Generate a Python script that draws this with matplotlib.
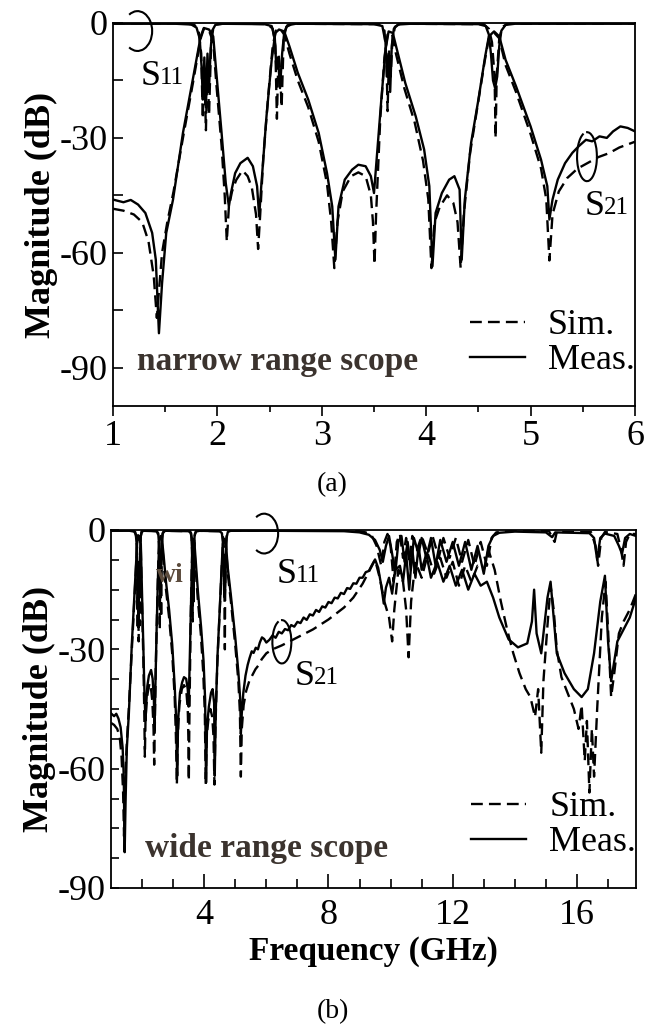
import math
import matplotlib
matplotlib.use('Agg')
import matplotlib.pyplot as plt
from matplotlib.patches import Arc

plt.rcParams['font.family'] = ['Liberation Serif', 'DejaVu Serif']

# ------------------------------------------------------------------ data
# narrow range (1-6 GHz)
f_s21_meas_n = [1.00, 1.10, 1.17, 1.24, 1.31, 1.375, 1.41, 1.44, 1.47, 1.51, 1.575, 1.67, 1.77, 1.84,
                1.87, 1.92, 1.96, 1.99, 2.04, 2.08, 2.11, 2.13, 2.17, 2.22, 2.29, 2.34, 2.38, 2.40,
                2.42, 2.47, 2.52, 2.555, 2.59, 2.64, 2.69, 2.77, 2.87, 2.97, 3.05, 3.10, 3.13, 3.16,
                3.22, 3.29, 3.35, 3.42, 3.47, 3.50, 3.52, 3.57, 3.61, 3.64, 3.68, 3.72, 3.80, 3.90,
                3.98, 4.03, 4.06, 4.09, 4.15, 4.22, 4.27, 4.32, 4.34, 4.37, 4.43, 4.50, 4.565, 4.60,
                4.65, 4.70, 4.76, 4.86, 5.00, 5.10, 5.16, 5.18, 5.21, 5.26, 5.33, 5.40, 5.46, 5.53,
                5.59, 5.66, 5.73, 5.79, 5.86, 5.93, 6.00]
s21_meas_n = [-46.1, -46.8, -46.2, -47.4, -49.6, -54.8, -61.8, -81.0, -67.9, -54.8, -46.1, -28.7, -13.9, -3.5,
              -1.3, -1.7, -3.5, -13.0, -28.7, -41.8, -47.9, -44.4, -39.2, -36.6, -35.2, -37.4, -42.6, -50.5,
              -42.6, -24.4, -9.6, -2.6, -1.7, -2.2, -6.1, -13.0, -20.0, -28.7, -39.2, -47.9, -61.8, -47.9,
              -40.9, -38.3, -37.0, -37.4, -40.0, -44.4, -37.4, -20.0, -7.0, -2.2, -2.6, -7.0, -15.7, -24.4,
              -33.0, -42.6, -63.5, -49.6, -44.4, -40.9, -40.0, -43.5, -61.8, -46.1, -31.3, -20.0, -8.7, -3.5,
              -2.2, -3.5, -9.6, -16.5, -27.0, -35.7, -42.6, -51.3, -46.1, -40.9, -36.6, -33.9, -32.2, -30.5,
              -30.9, -29.6, -30.0, -28.3, -27.0, -27.4, -28.3]

f_s21_sim_n = [1.00, 1.10, 1.20, 1.28, 1.34, 1.39, 1.42, 1.44, 1.47, 1.52, 1.58, 1.67, 1.77, 1.84, 1.87,
               1.92, 1.96, 1.99, 2.04, 2.07, 2.09, 2.11, 2.14, 2.18, 2.24, 2.29, 2.33, 2.37, 2.39, 2.41,
               2.44, 2.49, 2.53, 2.56, 2.60, 2.64, 2.69, 2.77, 2.87, 2.97, 3.05, 3.09, 3.12, 3.15, 3.20,
               3.28, 3.35, 3.42, 3.47, 3.49, 3.505, 3.52, 3.56, 3.60, 3.63, 3.67, 3.71, 3.79, 3.89, 3.97,
               4.02, 4.05, 4.08, 4.13, 4.20, 4.26, 4.30, 4.33, 4.36, 4.42, 4.49, 4.56, 4.60, 4.65, 4.70,
               4.76, 4.86, 5.00, 5.10, 5.15, 5.18, 5.21, 5.27, 5.35, 5.45, 5.55, 5.65, 5.75, 5.85, 5.95,
               6.00]
s21_sim_n = [-48.5, -49.0, -50.0, -52.0, -57.0, -66.0, -77.0, -70.0, -60.0, -52.0, -44.0, -30.0, -15.0, -4.0, -1.5,
             -2.0, -5.0, -16.0, -32.0, -45.0, -57.0, -48.0, -44.0, -41.0, -38.5, -40.0, -43.0, -50.0, -59.0, -50.0,
             -35.0, -18.0, -6.0, -2.0, -1.5, -3.0, -8.0, -15.0, -22.0, -31.0, -42.0, -52.0, -64.0, -52.0, -44.0,
             -40.0, -39.0, -40.0, -45.0, -52.0, -63.0, -50.0, -25.0, -9.0, -3.0, -2.5, -8.0, -17.0, -26.0, -36.0,
             -46.0, -64.0, -52.0, -48.0, -45.0, -47.0, -52.0, -64.0, -50.0, -34.0, -22.0, -10.0, -4.0, -2.5, -4.0,
             -11.0, -18.0, -29.0, -38.0, -46.0, -62.0, -50.0, -44.0, -40.5, -38.0, -36.5, -35.0, -34.0, -32.5, -31.5,
             -31.0]

f_s11_meas_n = [1.00, 1.60, 1.75, 1.80, 1.83, 1.85, 1.86, 1.875, 1.89, 1.905, 1.92, 1.935, 1.95, 1.98, 2.05,
                2.45, 2.52, 2.55, 2.565, 2.58, 2.60, 2.62, 2.64, 2.67, 2.75, 3.50, 3.58, 3.61, 3.625, 3.64,
                3.655, 3.67, 3.69, 3.73, 3.85, 4.50, 4.57, 4.60, 4.62, 4.64, 4.66, 4.68, 4.70, 4.72, 4.76,
                4.85, 6.00]
s11_meas_n = [-0.2, -0.2, -0.4, -1.2, -4.0, -12.0, -20.0, -9.0, -22.0, -8.0, -17.0, -7.0, -2.0, -0.5, -0.2,
              -0.3, -0.8, -4.0, -12.0, -9.0, -17.0, -8.0, -2.5, -0.6, -0.2, -0.3, -0.8, -5.0, -14.0, -8.0,
              -18.0, -6.0, -1.5, -0.4, -0.2, -0.3, -0.8, -3.0, -8.0, -15.0, -17.0, -14.0, -6.0, -2.0, -0.5,
              -0.2, -0.2]

f_s11_sim_n = [1.00, 1.70, 1.78, 1.82, 1.845, 1.86, 1.875, 1.89, 1.905, 1.92, 1.94, 1.96, 2.00, 2.10, 2.48,
               2.53, 2.555, 2.57, 2.585, 2.60, 2.615, 2.635, 2.66, 2.72, 3.55, 3.60, 3.62, 3.63, 3.645, 3.66,
               3.675, 3.70, 3.75, 4.55, 4.60, 4.63, 4.655, 4.665, 4.675, 4.70, 4.73, 4.78, 6.00]
s11_sim_n = [-0.1, -0.1, -0.5, -2.0, -8.0, -25.0, -12.0, -28.0, -10.0, -24.0, -5.0, -1.5, -0.3, -0.1, -0.3,
             -1.5, -6.0, -25.0, -8.0, -12.0, -22.0, -4.0, -1.0, -0.2, -0.3, -2.0, -10.0, -23.0, -7.0, -14.0,
             -5.0, -1.0, -0.2, -0.3, -1.5, -5.0, -14.0, -30.0, -14.0, -4.0, -1.0, -0.2, -0.1]

# wide range extension (6-18 GHz), appended to the narrow-range traces
f_s21_meas_w = [6.1, 6.2, 6.3, 6.4, 6.5, 6.6, 6.7, 6.8, 6.9, 7.0, 7.1, 7.2, 7.3, 7.4, 7.5, 7.6, 7.7, 7.8,
                7.9, 8.0, 8.1, 8.2, 8.3, 8.4, 8.5, 8.6, 8.7, 8.8, 8.9, 9.0, 9.1, 9.2, 9.3, 9.4, 9.5, 9.6,
                9.7, 9.78, 9.85, 9.95, 10.05, 10.15, 10.3, 10.4, 10.5, 10.6, 10.7, 10.8, 10.9, 11.0, 11.15,
                11.3, 11.5, 11.7, 11.9, 12.1, 12.3, 12.5, 12.7, 12.9, 13.1, 13.3, 13.5, 13.8, 14.1, 14.4,
                14.55, 14.62, 14.7, 14.85, 15.05, 15.15, 15.25, 15.35, 15.6, 15.9, 16.15, 16.35, 16.55,
                16.75, 16.9, 17.0, 17.1, 17.3, 17.5, 17.7, 17.9]
s21_meas_w = [-27.6, -26.5, -27.1, -25.6, -26.0, -24.9, -25.2, -23.9, -24.3, -23.1, -23.4, -22.0, -22.6, -21.2,
              -21.5, -20.1, -20.6, -19.2, -19.5, -18.1, -18.4, -17.0, -17.2, -15.8, -16.1, -14.6, -14.8, -13.4,
              -13.5, -12.0, -12.0, -10.6, -10.3, -8.8, -7.4, -9.5, -14.0, -18.5, -14.5, -12.0, -16.0, -10.0,
              -9.0, -13.0, -6.0, -15.0, -5.0, -12.0, -4.0, -10.0, -6.0, -12.0, -8.0, -13.0, -9.0, -14.0,
              -10.0, -15.0, -11.0, -14.0, -13.0, -17.0, -22.0, -27.5, -29.5, -28.5, -23.0, -15.0, -26.0,
              -31.0, -17.0, -13.0, -22.0, -31.0, -36.0, -40.0, -42.0, -40.0, -31.0, -18.0, -11.5, -28.0,
              -38.0, -28.0, -25.0, -22.0, -17.0]

f_s21_sim_w = [6.2, 6.5, 7.0, 7.5, 8.0, 8.5, 8.8, 9.1, 9.3, 9.5, 9.65, 9.8, 9.95, 10.05, 10.12, 10.25,
               10.4, 10.5, 10.58, 10.66, 10.8, 11.0, 11.2, 11.4, 11.6, 11.8, 12.0, 12.2, 12.4, 12.6, 12.8,
               13.0, 13.15, 13.35, 13.55, 13.75, 13.95, 14.15, 14.35, 14.5, 14.65, 14.75, 14.85, 14.92,
               15.05, 15.15, 15.25, 15.35, 15.5, 15.7, 15.9, 16.05, 16.15, 16.25, 16.32, 16.4, 16.48,
               16.55, 16.65, 16.8, 16.92, 17.0, 17.1, 17.2, 17.35, 17.5, 17.7, 17.9]
s21_sim_w = [-30.0, -29.0, -27.0, -25.0, -22.5, -19.5, -17.0, -13.5, -10.5, -7.5, -12.0, -18.0, -22.0, -28.0,
             -20.0, -10.0, -13.0, -20.0, -32.0, -18.0, -8.0, -12.0, -6.0, -11.0, -7.0, -12.0, -8.0, -14.0,
             -9.0, -13.0, -9.0, -10.0, -5.0, -10.0, -18.0, -25.0, -31.0, -36.0, -40.0, -42.0, -47.0, -40.0,
             -56.0, -38.0, -24.0, -14.0, -20.0, -30.0, -37.0, -41.0, -45.0, -50.0, -44.0, -58.0, -48.0, -66.0,
             -50.0, -62.0, -45.0, -22.0, -13.0, -25.0, -42.0, -36.0, -26.0, -23.0, -20.0, -16.0]

f_s11_meas_w = [6.2, 8.5, 9.0, 9.3, 9.5, 9.65, 9.75, 9.85, 9.95, 10.05, 10.15, 10.25, 10.35, 10.45, 10.55,
                10.65, 10.75, 10.9, 11.0, 11.15, 11.3, 11.45, 11.6, 11.8, 12.0, 12.2, 12.4, 12.6, 12.8,
                13.0, 13.15, 13.3, 13.5, 14.0, 15.0, 15.2, 15.3, 16.4, 16.55, 16.65, 16.75, 16.9, 17.2,
                17.35, 17.45, 17.55, 17.7, 17.9]
s11_meas_w = [-0.2, -0.3, -0.6, -1.2, -2.5, -5.0, -8.0, -4.0, -1.5, -6.0, -11.0, -3.0, -1.5, -8.0, -3.0,
              -10.0, -2.0, -6.0, -2.0, -7.0, -2.0, -9.0, -2.5, -8.0, -3.0, -9.0, -3.0, -10.0, -4.0,
              -11.0, -4.0, -1.5, -0.7, -0.4, -0.6, -1.8, -0.6, -0.8, -2.0, -7.5, -2.0, -0.9, -1.5,
              -4.0, -6.0, -2.0, -1.0, -1.5]

f_s11_sim_w = [6.2, 8.8, 9.2, 9.4, 9.55, 9.7, 9.8, 9.9, 10.0, 10.1, 10.2, 10.3, 10.4, 10.5, 10.6, 10.7,
               10.85, 11.0, 11.2, 11.35, 11.55, 11.7, 11.9, 12.1, 12.3, 12.5, 12.7, 12.9, 13.1, 13.25,
               13.4, 14.0, 15.1, 15.28, 15.35, 16.45, 16.6, 16.68, 16.78, 16.9, 17.3, 17.42, 17.5, 17.58,
               17.7, 17.9]
s11_sim_w = [-0.1, -0.1, -0.6, -1.5, -4.0, -9.0, -3.0, -1.0, -4.0, -13.0, -3.0, -1.0, -7.0, -2.0, -8.0, -1.5,
             -5.0, -1.5, -6.0, -1.5, -7.0, -2.0, -7.0, -2.0, -8.0, -2.5, -9.0, -3.0, -9.0, -2.0,
             -0.6, -0.2, -0.3, -3.0, -0.5, -0.5, -4.0, -9.0, -2.0, -0.5, -1.0, -5.0, -9.0, -3.0,
             -1.0, -1.0]

legend_labels = ['Sim.', 'Meas.']
narrow_xticks = [1, 2, 3, 4, 5, 6]
wide_xticks = [4, 8, 12, 16]
y_ticks = [-90, -60, -30, 0]

# ------------------------------------------------------------------ figure
W, H = 645, 1028
fig = plt.figure(figsize=(W / 100, H / 100), dpi=100)

def frac(l, t, r, b):
    return [l / W, 1 - b / H, (r - l) / W, (b - t) / H]

ax1 = fig.add_axes(frac(113, 23, 635, 406))
ax2 = fig.add_axes(frac(111, 530, 636, 888))

LW = 1.7
DASH = (0, (5, 2.6))
TICK_FS = 26
TXT_C = '#3b332e'

def draw(ax, fm, s21m, fs, s21s, f11m, s11m, f11s, s11s):
    ax.plot(f11s, s11s, color='black', lw=LW, ls=DASH)
    ax.plot(f11m, s11m, color='black', lw=LW)
    ax.plot(fs, s21s, color='black', lw=LW, ls=DASH, label=legend_labels[0])
    ax.plot(fm, s21m, color='black', lw=LW, label=legend_labels[1])

draw(ax1, f_s21_meas_n, s21_meas_n, f_s21_sim_n, s21_sim_n,
     f_s11_meas_n, s11_meas_n, f_s11_sim_n, s11_sim_n)
draw(ax2, f_s21_meas_n + f_s21_meas_w, s21_meas_n + s21_meas_w,
     f_s21_sim_n + f_s21_sim_w, s21_sim_n + s21_sim_w,
     f_s11_meas_n + f_s11_meas_w, s11_meas_n + s11_meas_w,
     f_s11_sim_n + f_s11_sim_w, s11_sim_n + s11_sim_w)

for ax in (ax1, ax2):
    for sp in ax.spines.values():
        sp.set_linewidth(1.3)
    ax.set_ylabel('Magnitude (dB)', fontsize=26, fontweight='bold', labelpad=1)
    ax.set_yticks(y_ticks)
    ax.set_yticklabels([str(v) for v in y_ticks])
    ax.tick_params(axis='both', labelsize=TICK_FS, width=1.2)
    ax.tick_params(axis='y', which='both', direction='in', length=7, pad=4, right=False)

# top axes
ax1.set_xlim(1, 6)
ax1.set_ylim(-100, 0)
ax1.set_xticks(narrow_xticks)
ax1.set_xticks([1.5, 2.5, 3.5, 4.5, 5.5], minor=True)
ax1.set_yticks([-75, -45, -15], minor=True)
ax1.tick_params(axis='x', which='major', direction='out', length=7, pad=3)
ax1.tick_params(axis='x', which='minor', direction='out', length=4.5, width=1.2)
ax1.tick_params(axis='y', which='minor', width=1.2)

# bottom axes
ax2.set_xlim(1, 17.9)
ax2.set_ylim(-90, 0)
ax2.set_xticks(wide_xticks)
ax2.set_xticks([2, 3, 5, 6, 7, 9, 10, 11, 13, 14, 15, 17], minor=True)
ax2.set_yticks([-82.5, -75, -67.5, -52.5, -45, -37.5, -22.5, -15, -7.5], minor=True)
ax2.tick_params(axis='x', which='major', direction='in', length=10, pad=8)
ax2.tick_params(axis='x', which='minor', direction='in', length=6.5, width=1.2)
ax2.tick_params(axis='y', which='minor', width=1.2, length=6)
ax2.tick_params(axis='y', which='major', length=6)
ax2.set_xlabel('Frequency (GHz)', fontsize=24, fontweight='bold', labelpad=3)

# legends
leg_kw = dict(frameon=False, fontsize=26, handlelength=1.5, handletextpad=0.65,
              labelspacing=0.05, borderpad=0, borderaxespad=0, loc='lower right')
ax1.legend(bbox_to_anchor=(1.0, 0.075), **leg_kw)
ax2.legend(bbox_to_anchor=(1.0, 0.08), **leg_kw)

# scope labels
ax1.text(0.046, 0.094, 'narrow range scope', transform=ax1.transAxes, fontsize=24,
         fontweight='bold', color=TXT_C, ha='left', va='baseline')
ax2.text(0.065, 0.087, 'wide range scope', transform=ax2.transAxes, fontsize=24,
         fontweight='bold', color=TXT_C, ha='left', va='baseline')
ax2.text(0.086, 0.855, 'wi', transform=ax2.transAxes, fontsize=20,
         fontweight='bold', color='#5b4b3c', ha='left', va='baseline')

# S-parameter labels
def s_label(ax, x, y, sub):
    t = ax.text(x, y, 'S', transform=ax.transAxes, fontsize=26, ha='left', va='baseline')
    ax.annotate(sub, xy=(0.97, 0.12), xycoords=t, fontsize=18, ha='left', va='bottom')

s_label(ax1, 0.052, 0.838, '11')
s_label(ax1, 0.904, 0.499, '21')
s_label(ax2, 0.315, 0.852, '11')
s_label(ax2, 0.349, 0.567, '21')

# loops marking the traces (angles given on the ellipse, converted for matplotlib's Arc)
def loop(ax, cx, cy, w, h, t1, t2, clip=True):
    def conv(t):
        r = math.radians(t)
        a = math.degrees(math.atan2(h * math.sin(r), w * math.cos(r)))
        while a < t - 180:
            a += 360
        while a > t + 180:
            a -= 360
        return a
    ax.add_patch(Arc((cx, cy), w, h, theta1=conv(t1), theta2=conv(t2), lw=1.5,
                     color='black', clip_on=clip))

loop(ax1, 1.235, -2.1, 0.28, 10.4, -125, 125, clip=False)
loop(ax1, 5.54, -34.9, 0.19, 12.8, -250, 95)
loop(ax2, 5.93, -0.9, 0.90, 10.0, -125, 125, clip=False)
loop(ax2, 6.5, -28.1, 0.61, 10.9, -250, 95)

# panel captions
fig.text(332 / W, 1 - 485 / H, '(a)', fontsize=20, ha='center', va='center')
fig.text(333 / W, 1 - 1012 / H, '(b)', fontsize=20, ha='center', va='center')

fig.savefig('out.png', dpi=100)
